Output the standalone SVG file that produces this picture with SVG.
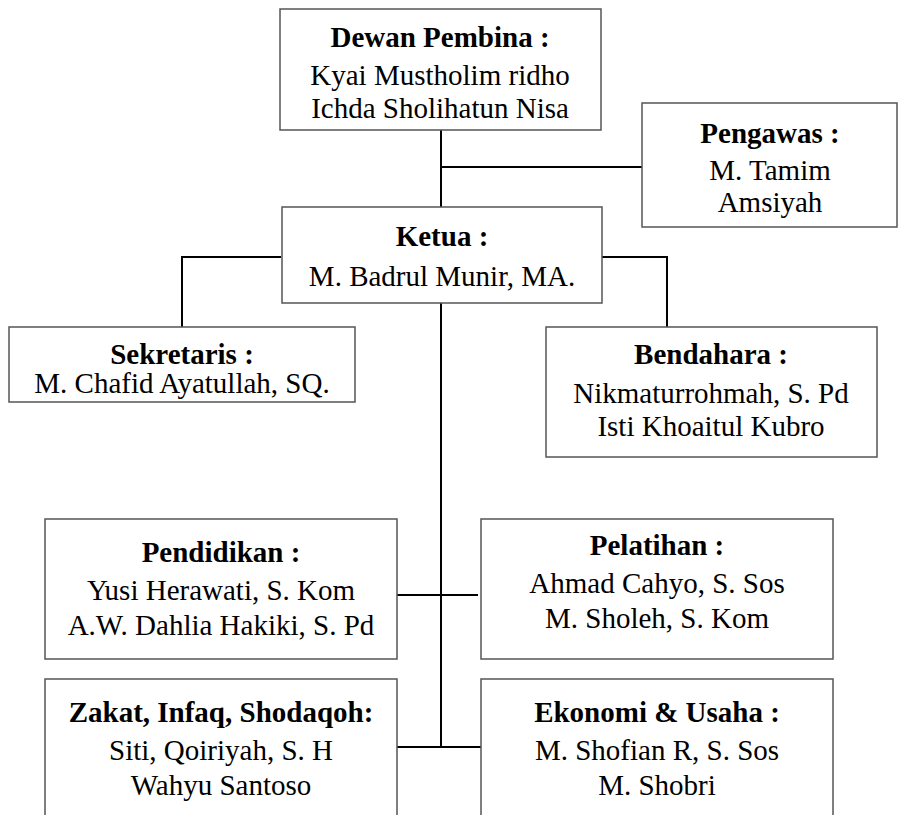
<svg xmlns="http://www.w3.org/2000/svg" width="899" height="815" viewBox="0 0 899 815">
<style>
.box{fill:#fff;stroke:#555;stroke-width:1.5}
.t{font-family:"Liberation Serif","Times New Roman",serif;font-size:29px;fill:#000;text-anchor:middle}
.b{font-weight:bold}
.c{fill:none;stroke:#000;stroke-width:2}
</style>
<rect width="899" height="815" fill="#fff"/>
<g id="connectors">
<path class="c" d="M441 130V207"/>
<path class="c" d="M441 167H642"/>
<path class="c" d="M281 257H182V327"/>
<path class="c" d="M602 257H667V327"/>
<path class="c" d="M441 303V747"/>
<path class="c" d="M397 595H478"/>
<path class="c" d="M397 747H481"/>
</g>
<g id="dewan">
<rect class="box" x="280" y="9" width="321" height="121"/>
<text class="t b" x="440" y="47">Dewan Pembina :</text>
<text class="t" x="440" y="85">Kyai Mustholim ridho</text>
<text class="t" x="440" y="118">Ichda Sholihatun Nisa</text>
</g>
<g id="pengawas">
<rect class="box" x="642" y="103" width="255" height="124"/>
<text class="t b" x="770" y="143">Pengawas :</text>
<text class="t" x="770" y="180">M. Tamim</text>
<text class="t" x="770" y="212">Amsiyah</text>
</g>
<g id="ketua">
<rect class="box" x="282" y="207" width="320" height="96"/>
<text class="t b" x="442" y="246">Ketua :</text>
<text class="t" x="442" y="286">M. Badrul Munir, MA.</text>
</g>
<g id="sekretaris">
<rect class="box" x="9" y="327" width="346" height="75"/>
<text class="t b" x="182" y="364">Sekretaris :</text>
<text class="t" x="182" y="393">M. Chafid Ayatullah, SQ.</text>
</g>
<g id="bendahara">
<rect class="box" x="546" y="327" width="331" height="130"/>
<text class="t b" x="711" y="364">Bendahara :</text>
<text class="t" x="711" y="403">Nikmaturrohmah, S. Pd</text>
<text class="t" x="711" y="436">Isti Khoaitul Kubro</text>
</g>
<g id="pendidikan">
<rect class="box" x="45" y="519" width="352" height="140"/>
<text class="t b" x="221" y="562">Pendidikan :</text>
<text class="t" x="221" y="600">Yusi Herawati, S. Kom</text>
<text class="t" x="221" y="635">A.W. Dahlia Hakiki, S. Pd</text>
</g>
<g id="pelatihan">
<rect class="box" x="481" y="519" width="352" height="140"/>
<text class="t b" x="657" y="555">Pelatihan :</text>
<text class="t" x="657" y="593">Ahmad Cahyo, S. Sos</text>
<text class="t" x="657" y="628">M. Sholeh, S. Kom</text>
</g>
<g id="zakat">
<rect class="box" x="45" y="679" width="352" height="150"/>
<text class="t b" x="221" y="722">Zakat, Infaq, Shodaqoh:</text>
<text class="t" x="221" y="760">Siti, Qoiriyah, S. H</text>
<text class="t" x="221" y="795">Wahyu Santoso</text>
</g>
<g id="ekonomi">
<rect class="box" x="481" y="679" width="352" height="150"/>
<text class="t b" x="657" y="722">Ekonomi &amp; Usaha :</text>
<text class="t" x="657" y="760">M. Shofian R, S. Sos</text>
<text class="t" x="657" y="795">M. Shobri</text>
</g>
</svg>
